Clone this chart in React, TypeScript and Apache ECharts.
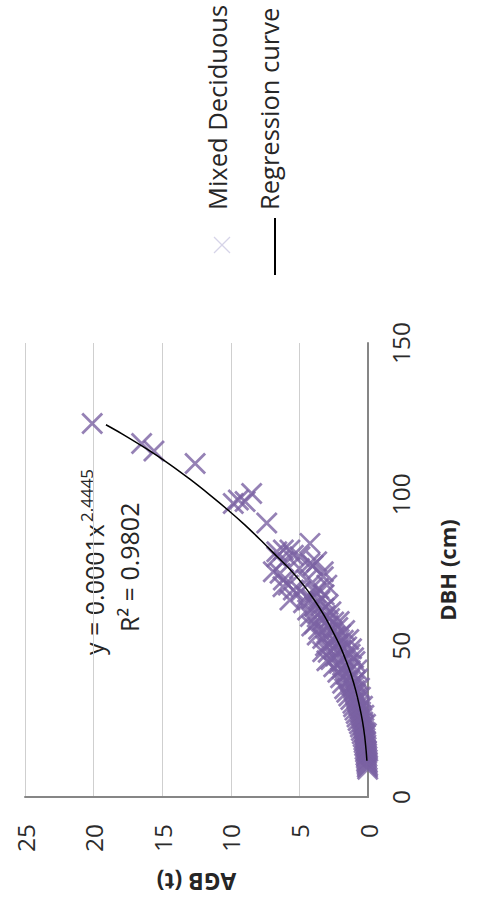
import React, { useEffect, useRef } from "react";
import * as echarts from "echarts";

const seriesNames = ["Mixed Deciduous", "Regression curve"];
const xAxisName = "DBH (cm)";
const yAxisName = "AGB (t)";
const equationMain = "y = 0.0001x";
const equationExp = "2.4445";
const rSquared = "R² = 0.9802";
const dbhTicks = [0, 50, 100, 150];
const agbTicks = [0, 5, 10, 15, 20, 25];

// [DBH (cm), AGB (t)]
const mixedDeciduous: [number, number][] = [
  [9.2, 0.02], [9.8, 0.05], [10.3, 0.03], [10.9, 0.07], [11.4, 0.05], [11.8, 0.1],
  [12.3, 0.06], [12.9, 0.12], [13.4, 0.08], [13.8, 0.15], [14.3, 0.1], [14.9, 0.18],
  [15.3, 0.12], [15.8, 0.21], [16.4, 0.14], [16.9, 0.24], [17.3, 0.16], [17.9, 0.28],
  [18.4, 0.18], [18.8, 0.3], [19.4, 0.22], [19.9, 0.35],
  [20.4, 0.2], [20.9, 0.42], [21.5, 0.26], [22.0, 0.48], [22.6, 0.3], [23.1, 0.55],
  [23.7, 0.33], [24.2, 0.62], [24.8, 0.38], [25.3, 0.72], [25.9, 0.45], [26.4, 0.8],
  [27.0, 0.5], [27.6, 0.86], [28.1, 0.55], [28.7, 0.95], [29.3, 0.6], [29.8, 1.05],
  [21.0, 0.12], [24.0, 0.18], [27.0, 0.3], [30.0, 0.4],
  [30.4, 0.68], [31.0, 1.1], [31.6, 0.75], [32.2, 1.25], [32.8, 0.82], [33.4, 1.4],
  [34.0, 0.9], [34.6, 1.55], [35.2, 0.98], [35.8, 1.7], [36.4, 1.05], [37.0, 1.2],
  [37.6, 1.85], [38.2, 0.95], [38.8, 1.35], [39.4, 2.0], [40.0, 1.15],
  [33.0, 0.55], [36.0, 0.62], [39.0, 0.75],
  [40.6, 1.6], [41.2, 2.2], [41.8, 1.3], [42.4, 1.9], [43.0, 2.5], [43.6, 1.45],
  [44.2, 2.1], [44.8, 0.95], [45.4, 2.7], [46.0, 1.7], [46.6, 2.35], [47.2, 1.3],
  [47.8, 2.9], [48.4, 1.95], [49.0, 2.5], [49.6, 1.55], [50.0, 3.1],
  [42.0, 0.8], [46.0, 1.05], [49.0, 1.2], [45.0, 3.0], [48.0, 3.3],
  [50.6, 2.2], [51.2, 2.7], [51.8, 1.8], [52.4, 3.3], [53.0, 2.4], [53.6, 2.0],
  [54.2, 3.0], [54.8, 2.6], [55.4, 3.6], [56.0, 2.2], [56.6, 2.9], [57.2, 3.9],
  [57.8, 2.5], [58.4, 3.3], [59.0, 2.8], [59.6, 4.2], [60.0, 3.1],
  [52.0, 1.4], [55.0, 1.7], [58.0, 2.1], [53.5, 3.7], [56.5, 4.1],
  [60.6, 3.6], [61.2, 2.7], [61.8, 4.4], [62.4, 3.2], [63.0, 3.9], [63.6, 2.9],
  [64.2, 4.7], [64.8, 3.5], [65.1, 5.69], [65.5, 4.1], [66.2, 4.47], [66.8, 3.2],
  [67.4, 3.8], [68.0, 4.9], [68.4, 5.44], [68.9, 3.6], [69.5, 6.2], [70.0, 3.0],
  [70.0, 5.81],
  [71.7, 4.47], [71.7, 6.17], [72.8, 3.26], [73.9, 6.41], [74.4, 3.26], [74.4, 6.9],
  [75.5, 5.0], [76.5, 4.0], [77.2, 4.23], [77.7, 3.74], [77.7, 6.17], [79.4, 4.96],
  [79.4, 6.65], [79.9, 5.44], [81.0, 6.65], [81.6, 5.69], [81.6, 6.17], [83.8, 4.23],
  [90.5, 7.38], [97.0, 9.82], [97.6, 8.96], [98.1, 9.45], [100.3, 8.48],
  [110.2, 12.6], [114.3, 15.6], [116.8, 16.5], [123.4, 20.1],
];

const regressionCurve: [number, number][] = [
  [12, 0.08], [15, 0.13], [20, 0.24], [25, 0.4], [30, 0.62], [35, 0.88],
  [40, 1.2], [45, 1.6], [50, 2.05], [55, 2.6], [60, 3.2], [65, 3.9],
  [70, 4.7], [75, 5.65], [80, 6.75], [85, 7.85], [90, 9.0], [95, 10.25],
  [100, 11.58], [105, 12.98], [110, 14.48], [115, 16.13], [120, 17.93], [123, 19.1],
];

const FONT = "'Open Sans', 'Noto Sans', sans-serif";
const TEXT = "#262626";

export default function App() {
  const ref = useRef<HTMLDivElement>(null);

  useEffect(() => {
    if (!ref.current) return;
    const chart = echarts.init(ref.current, null, { renderer: "svg", width: 903, height: 478 });
    chart.setOption({
      animation: false,
      backgroundColor: "#ffffff",
      textStyle: { fontFamily: FONT },
      grid: { left: 106, right: 343, top: 25, bottom: 110 },
      xAxis: {
        type: "value",
        min: dbhTicks[0],
        max: dbhTicks[dbhTicks.length - 1],
        interval: dbhTicks[1] - dbhTicks[0],
        name: xAxisName,
        nameLocation: "middle",
        nameGap: 68,
        nameTextStyle: { fontSize: 22, fontWeight: "bold", color: TEXT, fontFamily: FONT },
        axisLine: { show: true, lineStyle: { color: "#868686", width: 2 } },
        axisTick: { show: false },
        splitLine: { show: false },
        axisLabel: { fontSize: 24.5, color: "#2b2b2b", fontFamily: FONT, margin: 20 },
      },
      yAxis: {
        type: "value",
        min: agbTicks[0],
        max: agbTicks[agbTicks.length - 1],
        interval: agbTicks[1] - agbTicks[0],
        name: yAxisName,
        nameLocation: "middle",
        nameGap: 73,
        nameTextStyle: { fontSize: 23, fontWeight: "bold", color: TEXT, fontFamily: FONT },
        axisLine: { show: true, lineStyle: { color: "#868686", width: 2 } },
        axisTick: { show: false },
        splitLine: { show: true, lineStyle: { color: "#cfcfcf", width: 1 } },
        axisLabel: { fontSize: 24.5, color: "#2b2b2b", fontFamily: FONT, margin: 27 },
      },
      graphic: [
        { type: "text", left: 248, top: 98 - 17, style: { text: equationMain, fontSize: 25, fontFamily: FONT, fill: TEXT } },
        { type: "text", left: 381, top: 78, style: { text: equationExp, fontSize: 17, fontFamily: FONT, fill: TEXT } },
        { type: "text", left: 271, top: 133 - 17, style: { text: rSquared, fontSize: 25, fontFamily: FONT, fill: TEXT } },
        { type: "line", shape: { x1: 650, y1: 214, x2: 666, y2: 230 }, style: { stroke: "#d6d4e8", lineWidth: 1.3 } },
        { type: "line", shape: { x1: 666, y1: 214, x2: 650, y2: 230 }, style: { stroke: "#d6d4e8", lineWidth: 1.3 } },
        { type: "text", left: 693, top: 222 - 18, style: { text: seriesNames[0], fontSize: 25.5, fontFamily: FONT, fill: TEXT } },
        { type: "line", shape: { x1: 628, y1: 275, x2: 685, y2: 275 }, style: { stroke: "#000000", lineWidth: 2 } },
        { type: "text", left: 693, top: 274 - 18, style: { text: seriesNames[1], fontSize: 25.5, fontFamily: FONT, fill: TEXT } },
      ],
      series: [
        {
          name: seriesNames[0],
          type: "scatter",
          data: mixedDeciduous,
          symbol: "path://M0,0L10,10M10,0L0,10",
          symbolSize: 20,
          itemStyle: { color: "rgba(0,0,0,0)", borderColor: "#7a62a3", borderWidth: 2.8 },
          z: 2,
        },
        {
          name: seriesNames[1],
          type: "line",
          data: regressionCurve,
          showSymbol: false,
          symbol: "none",
          smooth: 0.3,
          lineStyle: { color: "#000000", width: 1.5 },
          z: 3,
        },
      ],
    });
    return () => chart.dispose();
  }, []);

  return (
    <div
      style={{
        position: "absolute",
        left: 0,
        top: 0,
        width: 903,
        height: 478,
        background: "#ffffff",
        transformOrigin: "0 0",
        transform: "translateY(903px) rotate(-90deg)",
      }}
    >
      <div ref={ref} style={{ width: 903, height: 478 }} />
    </div>
  );
}
